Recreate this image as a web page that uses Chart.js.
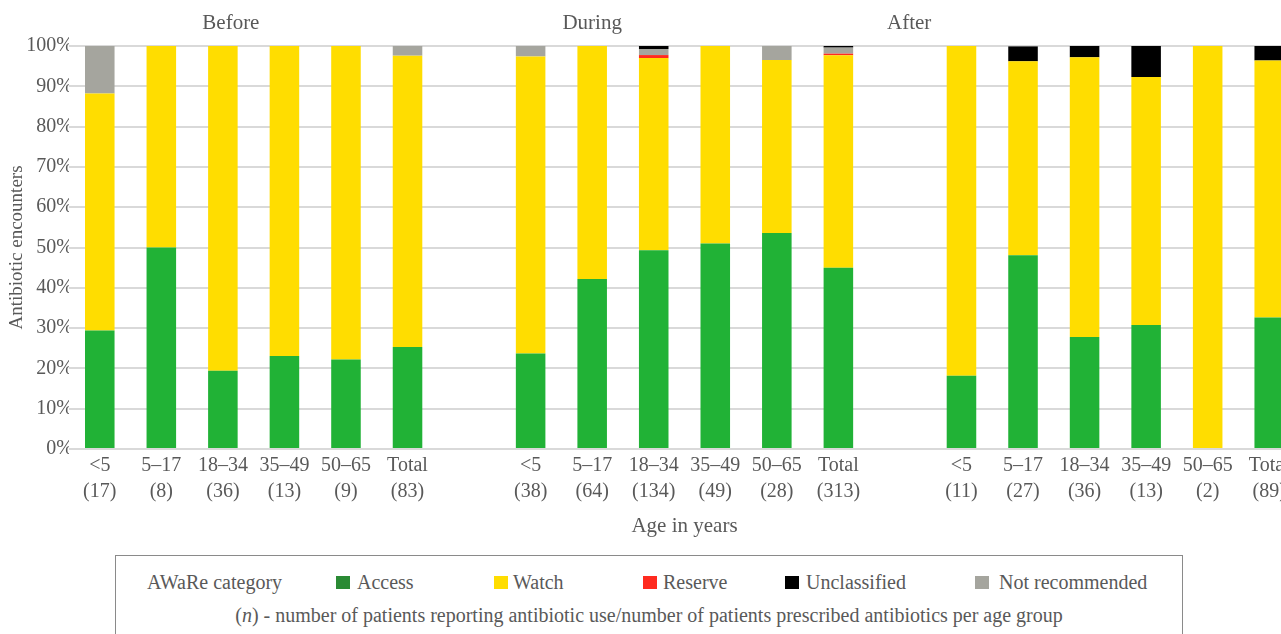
<!DOCTYPE html>
<html>
<head>
<meta charset="utf-8">
<script src="https://cdn.jsdelivr.net/npm/chart.js@4.4.1/dist/chart.umd.min.js"></script>
<style>
    html, body { margin: 0; padding: 0; background: #fff; overflow: hidden; width: 1281px; height: 634px; }
    #wrap { position: absolute; left: 0; top: 0; width: 1300px; height: 545px; }
    #legendBox {
        position: absolute; left: 115px; top: 555px; width: 1068px; height: 100px;
        border: 1.5px solid #8a8a8a; box-sizing: border-box;
        font-family: 'Liberation Serif', 'Times New Roman', serif; font-size: 20px; color: #595959;
    }
    #legendBox .lbl { position: absolute; top: 14px; line-height: 24px; white-space: nowrap; }
    #legendBox .sw { position: absolute; top: 20px; width: 14px; height: 13px; }
    #legendBox .note { position: absolute; left: 0; right: 0; top: 47px; text-align: center; line-height: 24px; white-space: nowrap; }
</style>
</head>
<body>
<div id="wrap"><canvas id="awareChart"></canvas></div>
<div id="legendBox"></div>
<script>
const periods = ['Before', 'During', 'After'];
const ageGroups = ['<5', '5–17', '18–34', '35–49', '50–65', 'Total'];
const nBefore = [17, 8, 36, 13, 9, 83];
const nDuring = [38, 64, 134, 49, 28, 313];
const nAfter = [11, 27, 36, 13, 2, 89];

// % of encounters, 18 bars: Before x6, During x6, After x6
const access = [29.4, 50.0, 19.4, 23.1, 22.2, 25.3, 23.7, 42.2, 49.3, 51.0, 53.6, 45.0, 18.2, 48.1, 27.8, 30.8, 0, 32.6];
const watch = [58.8, 50.0, 80.6, 76.9, 77.8, 72.3, 73.7, 57.8, 47.7, 49.0, 42.9, 52.7, 81.8, 48.1, 69.4, 61.5, 100, 63.8];
const reserve = [0, 0, 0, 0, 0, 0, 0, 0, 0.75, 0, 0, 0.4, 0, 0, 0, 0, 0, 0];
const notRecommended = [11.8, 0, 0, 0, 0, 2.4, 2.6, 0, 1.5, 0, 3.5, 1.5, 0, 0, 0, 0, 0, 0];
const unclassified = [0, 0, 0, 0, 0, 0, 0, 0, 0.75, 0, 0, 0.4, 0, 3.7, 2.8, 7.7, 0, 3.6];

const yTicks = [0, 10, 20, 30, 40, 50, 60, 70, 80, 90, 100];

const colors = {
    access: '#21b236',
    watch: '#ffdd00',
    reserve: '#ff2a1f',
    unclassified: '#000000',
    notRecommended: '#a5a59e',
};

// one empty slot between the periods
function withGaps(values) {
    return [...values.slice(0, 6), null, ...values.slice(6, 12), null, ...values.slice(12)];
}

function buildLabels() {
    const counts = [nBefore, nDuring, nAfter];
    const labels = [];
    counts.forEach((n, p) => {
        if (p > 0) {
            labels.push('');
        }
        ageGroups.forEach((age, i) => labels.push([age, `(${n[i]})`]));
    });
    return labels;
}

const serif = "'Liberation Serif', 'Times New Roman', serif";
const textColor = '#595959';

const periodTitles = {
    id: 'periodTitles',
    afterDraw(chart) {
        const { ctx } = chart;
        const x = chart.scales.x;
        const slots = [2.13, 8.0, 13.15];
        ctx.save();
        ctx.font = `21px ${serif}`;
        ctx.fillStyle = textColor;
        ctx.textAlign = 'center';
        ctx.textBaseline = 'middle';
        periods.forEach((name, i) => {
            ctx.fillText(name, x.getPixelForValue(slots[i]), 23);
        });
        ctx.restore();
    },
};

// stacking order bottom -> top
const datasets = [
    { label: 'Access', data: withGaps(access), backgroundColor: colors.access },
    { label: 'Watch', data: withGaps(watch), backgroundColor: colors.watch },
    { label: 'Reserve', data: withGaps(reserve), backgroundColor: colors.reserve },
    { label: 'Not recommended', data: withGaps(notRecommended), backgroundColor: colors.notRecommended },
    { label: 'Unclassified', data: withGaps(unclassified), backgroundColor: colors.unclassified },
];

const chart = new Chart(document.getElementById('awareChart'), {
    type: 'bar',
    data: {
        labels: buildLabels(),
        datasets: datasets.map((d) => ({ ...d, borderWidth: 0, categoryPercentage: 1, barPercentage: 0.48 })),
    },
    options: {
        responsive: true,
        maintainAspectRatio: false,
        animation: false,
        layout: { padding: { top: 46, right: 0, bottom: 0, left: 0 } },
        plugins: {
            legend: { display: false },
            tooltip: { enabled: false },
        },
        scales: {
            x: {
                stacked: true,
                grid: { display: false, drawTicks: false },
                border: { display: false },
                ticks: {
                    autoSkip: false,
                    maxRotation: 0,
                    padding: 4,
                    color: textColor,
                    font: { family: serif, size: 20, lineHeight: 1.3 },
                },
                title: {
                    display: true,
                    text: 'Age in years',
                    color: textColor,
                    font: { family: serif, size: 21 },
                    padding: { top: 0, bottom: 6 },
                },
                afterFit(scale) {
                    scale.height = 96;
                },
            },
            y: {
                stacked: true,
                min: 0,
                max: 100,
                border: { display: false },
                grid: { color: '#d9d9d9', lineWidth: 2, drawTicks: false },
                afterBuildTicks(scale) {
                    scale.ticks = yTicks.map((v) => ({ value: v }));
                },
                ticks: {
                    padding: -4,
                    color: textColor,
                    font: { family: serif, size: 20 },
                    callback: (v) => `${v}%`,
                },
                title: {
                    display: true,
                    text: 'Antibiotic encounters',
                    color: textColor,
                    font: { family: serif, size: 19 },
                    padding: { top: 6, bottom: 0 },
                },
                afterFit(scale) {
                    scale.width = 69;
                },
            },
        },
    },
    plugins: [periodTitles],
});

function buildLegend() {
    const box = document.getElementById('legendBox');
    const order = ['Access', 'Watch', 'Reserve', 'Unclassified', 'Not recommended'];
    const swatches = ['#2a8a34', colors.watch, colors.reserve, colors.unclassified, colors.notRecommended];
    const swatchLeft = [220, 378, 527, 669, 859];
    const textLeft = [241, 397, 547, 690, 883];

    const title = document.createElement('span');
    title.className = 'lbl';
    title.style.left = '31px';
    title.textContent = 'AWaRe category';
    box.appendChild(title);

    order.forEach((name, i) => {
        const sw = document.createElement('span');
        sw.className = 'sw';
        sw.style.left = `${swatchLeft[i]}px`;
        sw.style.background = swatches[i];
        box.appendChild(sw);

        const lbl = document.createElement('span');
        lbl.className = 'lbl';
        lbl.style.left = `${textLeft[i]}px`;
        lbl.textContent = name;
        box.appendChild(lbl);
    });

    const note = document.createElement('div');
    note.className = 'note';
    const n = document.createElement('i');
    n.textContent = 'n';
    note.append('(', n, ') - number of patients reporting antibiotic use/number of patients prescribed antibiotics per age group');
    box.appendChild(note);
}

buildLegend();
</script>
</body>
</html>
